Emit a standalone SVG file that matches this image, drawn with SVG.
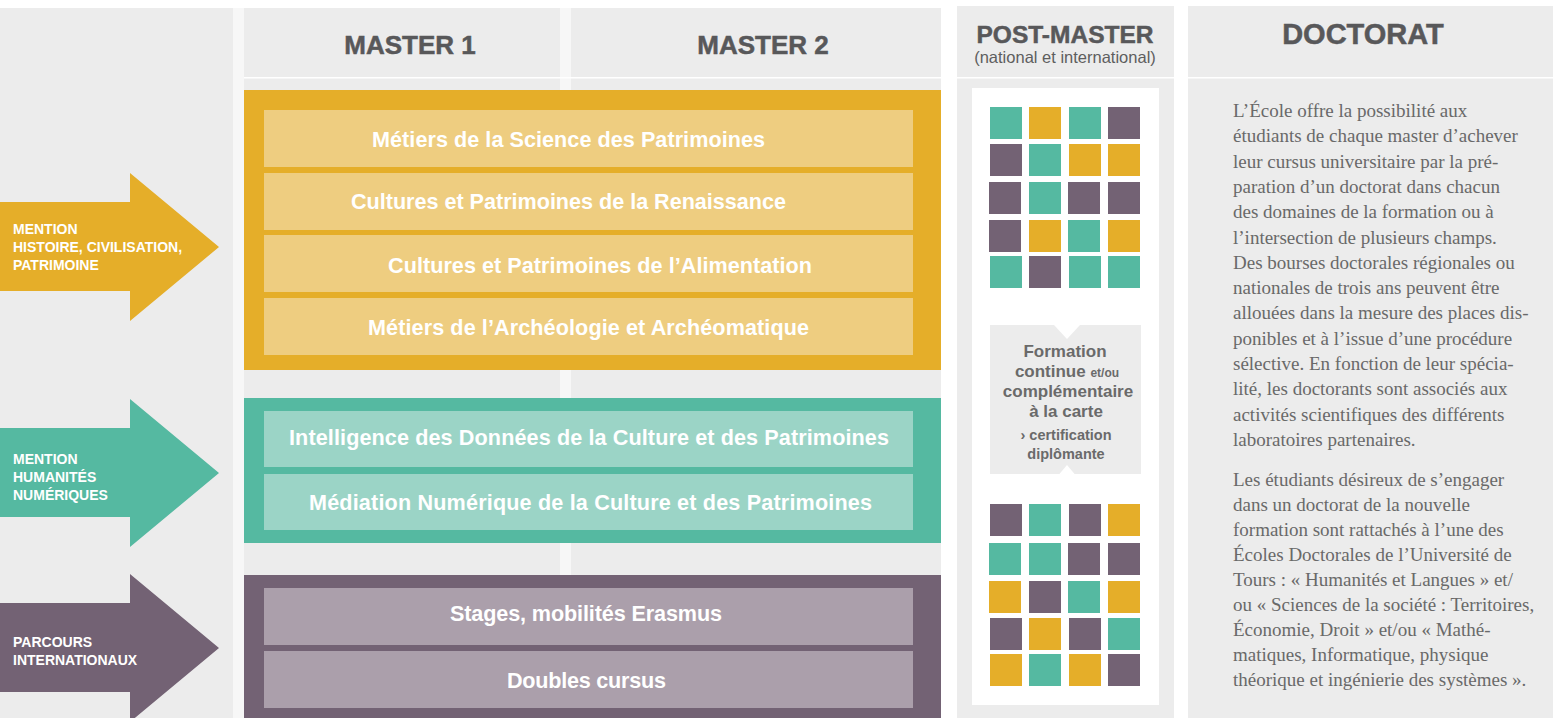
<svg xmlns="http://www.w3.org/2000/svg" width="1553" height="718" viewBox="0 0 1553 718">
<defs>
<style>
.bg{fill:#ececec}
.strip{fill:#f7f7f7}
.hline{fill:#ffffff}
.hd{font-family:"Liberation Sans",Arial,sans-serif;font-weight:bold;fill:#58585a;stroke:#58585a;stroke-width:0.5;text-anchor:middle}
.sub{font-family:"Liberation Sans",Arial,sans-serif;fill:#5e5e5e;text-anchor:middle;font-size:16.5px}
.arrowtxt{font-family:"Liberation Sans",Arial,sans-serif;font-weight:bold;fill:#ffffff;font-size:14px}
.boxtxt{font-family:"Liberation Sans",Arial,sans-serif;font-weight:bold;fill:#ffffff;font-size:21.6px;text-anchor:middle}
.g{fill:#e5ae29}
.t{fill:#55b9a1}
.p{fill:#736274}
.lg{fill:#eecd80}
.lt{fill:#9bd4c6}
.lp{fill:#ab9fab}
.form{font-family:"Liberation Sans",Arial,sans-serif;font-weight:bold;fill:#6a6a6a;text-anchor:middle}
.doc{font-family:"Liberation Serif","Times New Roman",serif;font-size:19px;fill:#696969}
</style>
</defs>
<rect width="1553" height="718" fill="#ffffff"/>
<g id="background">
<rect class="bg" x="0" y="8" width="233" height="710"/>
<rect class="strip" x="233" y="8" width="11" height="710"/>
<rect class="bg" x="244" y="8" width="316" height="710"/>
<rect class="strip" x="560" y="8" width="11" height="710"/>
<rect class="bg" x="571" y="8" width="370" height="710"/>
<rect class="bg" x="957" y="6" width="217" height="712"/>
<rect class="bg" x="1188" y="6" width="365" height="712"/>
<rect class="hline" x="244" y="77" width="697" height="1.5"/>
<rect class="hline" x="957" y="77" width="217" height="1.5"/>
<rect class="hline" x="1188" y="77" width="365" height="1.5"/>
</g>
<g id="header-master1"><text class="hd" x="410" y="54" font-size="26">MASTER 1</text></g>
<g id="header-master2"><text class="hd" x="763" y="54" font-size="26">MASTER 2</text></g>
<g id="header-postmaster">
<text class="hd" x="1065" y="43" font-size="24.5">POST-MASTER</text>
<text class="sub" x="1065" y="63">(national et international)</text>
</g>
<g id="header-doctorat"><text class="hd" x="1363" y="44" font-size="29">DOCTORAT</text></g>

<g id="arrow-histoire">
<polygon class="g" points="0,202 130,202 130,173 219,247 130,321 130,291 0,291"/>
<text class="arrowtxt" x="13" y="234">MENTION</text>
<text class="arrowtxt" x="13" y="252">HISTOIRE, CIVILISATION,</text>
<text class="arrowtxt" x="13" y="270">PATRIMOINE</text>
</g>
<g id="arrow-humanites">
<polygon class="t" points="0,428 130,428 130,399 219,473 130,547 130,517 0,517"/>
<text class="arrowtxt" x="13" y="464">MENTION</text>
<text class="arrowtxt" x="13" y="482">HUMANITÉS</text>
<text class="arrowtxt" x="13" y="500">NUMÉRIQUES</text>
</g>
<g id="arrow-international">
<polygon class="p" points="0,603 130,603 130,574 219,648 130,722 130,692 0,692"/>
<text class="arrowtxt" x="13" y="647">PARCOURS</text>
<text class="arrowtxt" x="13" y="665">INTERNATIONAUX</text>
</g>

<g id="box-histoire">
<rect class="g" x="244" y="90" width="697" height="280"/>
<rect class="lg" x="264" y="110" width="649" height="57"/>
<rect class="lg" x="264" y="173" width="649" height="57"/>
<rect class="lg" x="264" y="235" width="649" height="57"/>
<rect class="lg" x="264" y="298" width="649" height="57"/>
<text class="boxtxt" x="568.5" y="147" textLength="393">Métiers de la Science des Patrimoines</text>
<text class="boxtxt" x="568.5" y="209" textLength="435">Cultures et Patrimoines de la Renaissance</text>
<text class="boxtxt" x="600" y="273" textLength="424">Cultures et Patrimoines de l’Alimentation</text>
<text class="boxtxt" x="588.5" y="335" textLength="441">Métiers de l’Archéologie et Archéomatique</text>
</g>
<g id="box-humanites">
<rect class="t" x="244" y="398" width="697" height="145"/>
<rect class="lt" x="264" y="411" width="649" height="56"/>
<rect class="lt" x="264" y="474" width="649" height="56"/>
<text class="boxtxt" x="589" y="445" textLength="600">Intelligence des Données de la Culture et des Patrimoines</text>
<text class="boxtxt" x="590.5" y="510" textLength="563">Médiation Numérique de la Culture et des Patrimoines</text>
</g>
<g id="box-international">
<rect class="p" x="244" y="575" width="697" height="143"/>
<rect class="lp" x="264" y="588" width="649" height="57"/>
<rect class="lp" x="264" y="651" width="649" height="57"/>
<text class="boxtxt" x="586" y="621" textLength="272">Stages, mobilités Erasmus</text>
<text class="boxtxt" x="586.5" y="688" textLength="159">Doubles cursus</text>
</g>

<g id="postmaster">
<rect x="972" y="88" width="187" height="617" fill="#ffffff"/>
<g id="grid-top">
<rect class="t" x="990" y="107" width="32" height="32"/><rect class="g" x="1029" y="107" width="32" height="32"/><rect class="t" x="1069" y="107" width="32" height="32"/><rect class="p" x="1108" y="107" width="32" height="32"/>
<rect class="p" x="990" y="144" width="32" height="32"/><rect class="t" x="1029" y="144" width="32" height="32"/><rect class="g" x="1069" y="144" width="32" height="32"/><rect class="g" x="1108" y="144" width="32" height="32"/>
<rect class="p" x="989" y="182" width="32" height="32"/><rect class="t" x="1029" y="182" width="32" height="32"/><rect class="p" x="1068" y="182" width="32" height="32"/><rect class="p" x="1108" y="182" width="32" height="32"/>
<rect class="p" x="989" y="220" width="32" height="32"/><rect class="g" x="1029" y="220" width="32" height="32"/><rect class="t" x="1068" y="220" width="32" height="32"/><rect class="g" x="1108" y="220" width="32" height="32"/>
<rect class="t" x="990" y="256" width="32" height="32"/><rect class="p" x="1029" y="256" width="32" height="32"/><rect class="t" x="1069" y="256" width="32" height="32"/><rect class="t" x="1108" y="256" width="32" height="32"/>
</g>
<g id="formation">
<rect class="bg" x="990" y="325" width="151" height="149"/>
<polygon points="1054,325 1080,325 1067,339" fill="#ffffff"/>
<polygon points="1059,474.5 1075,474.5 1067,465" fill="#ffffff"/>
<text class="form" font-size="17"><tspan x="1065" y="357">Formation</tspan><tspan x="1067" y="377">continue <tspan font-size="12">et/ou</tspan></tspan><tspan x="1068" y="397">complémentaire</tspan><tspan x="1066" y="417">à la carte</tspan><tspan x="1066" y="440" font-size="14.5">› certification</tspan><tspan x="1066" y="459" font-size="14.5">diplômante</tspan></text>
</g>
<g id="grid-bottom">
<rect class="p" x="990" y="504" width="32" height="32"/><rect class="t" x="1029" y="504" width="32" height="32"/><rect class="p" x="1069" y="504" width="32" height="32"/><rect class="g" x="1108" y="504" width="32" height="32"/>
<rect class="t" x="989" y="543" width="32" height="32"/><rect class="t" x="1029" y="543" width="32" height="32"/><rect class="p" x="1068" y="543" width="32" height="32"/><rect class="p" x="1108" y="543" width="32" height="32"/>
<rect class="g" x="989" y="581" width="32" height="32"/><rect class="p" x="1029" y="581" width="32" height="32"/><rect class="t" x="1068" y="581" width="32" height="32"/><rect class="g" x="1108" y="581" width="32" height="32"/>
<rect class="p" x="990" y="618" width="32" height="32"/><rect class="g" x="1029" y="618" width="32" height="32"/><rect class="p" x="1069" y="618" width="32" height="32"/><rect class="t" x="1108" y="618" width="32" height="32"/>
<rect class="g" x="990" y="654" width="32" height="32"/><rect class="t" x="1029" y="654" width="32" height="32"/><rect class="g" x="1069" y="654" width="32" height="32"/><rect class="p" x="1108" y="654" width="32" height="32"/>
</g>
</g>

<g id="doctorat-text">
<text class="doc" x="1233" y="117">L’École offre la possibilité aux</text>
<text class="doc" x="1233" y="142.3">étudiants de chaque master d’achever</text>
<text class="doc" x="1233" y="167.6">leur cursus universitaire par la pré-</text>
<text class="doc" x="1233" y="192.9">paration d’un doctorat dans chacun</text>
<text class="doc" x="1233" y="218.2">des domaines de la formation ou à</text>
<text class="doc" x="1233" y="243.5">l’intersection de plusieurs champs.</text>
<text class="doc" x="1233" y="268.8">Des bourses doctorales régionales ou</text>
<text class="doc" x="1233" y="294.1">nationales de trois ans peuvent être</text>
<text class="doc" x="1233" y="319.4">allouées dans la mesure des places dis-</text>
<text class="doc" x="1233" y="344.7">ponibles et à l’issue d’une procédure</text>
<text class="doc" x="1233" y="370">sélective. En fonction de leur spécia-</text>
<text class="doc" x="1233" y="395.3">lité, les doctorants sont associés aux</text>
<text class="doc" x="1233" y="420.6">activités scientifiques des différents</text>
<text class="doc" x="1233" y="445.9">laboratoires partenaires.</text>
<text class="doc" x="1233" y="486">Les étudiants désireux de s’engager</text>
<text class="doc" x="1233" y="511">dans un doctorat de la nouvelle</text>
<text class="doc" x="1233" y="536">formation sont rattachés à l’une des</text>
<text class="doc" x="1233" y="561">Écoles Doctorales de l’Université de</text>
<text class="doc" x="1233" y="586">Tours : « Humanités et Langues » et/</text>
<text class="doc" x="1233" y="611">ou « Sciences de la société : Territoires,</text>
<text class="doc" x="1233" y="636">Économie, Droit » et/ou « Mathé-</text>
<text class="doc" x="1233" y="661">matiques, Informatique, physique</text>
<text class="doc" x="1233" y="686">théorique et ingénierie des systèmes ».</text>
</g>
<g id="connectors"/>
</svg>
